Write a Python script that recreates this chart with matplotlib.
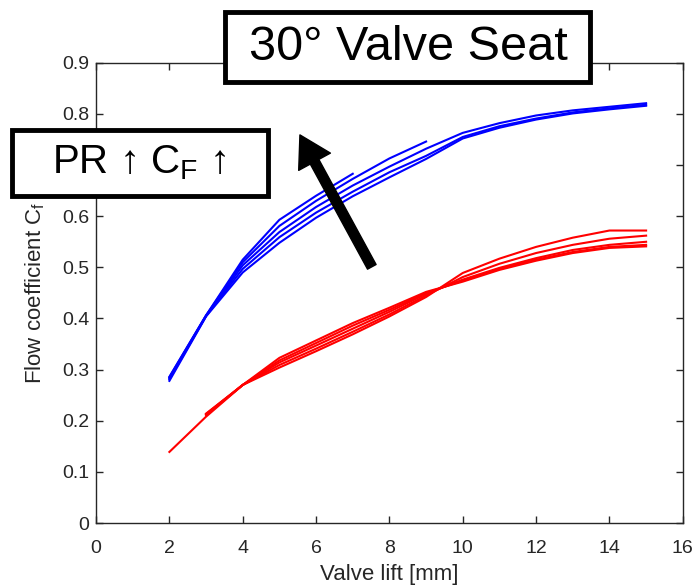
import numpy as np
import matplotlib
matplotlib.use('Agg')
import matplotlib.pyplot as plt
from matplotlib.patches import Rectangle

plt.rcParams['font.family'] = ['Liberation Sans', 'DejaVu Sans']
plt.rcParams['mathtext.fontset'] = 'custom'
plt.rcParams['mathtext.rm'] = 'Liberation Sans'

# Valve lift [mm]
lift_full = np.arange(2, 16)
lift_r = np.arange(3, 16)

# flow coefficient, blue curves (PR rising from bottom to top)
blue_1 = [0.286, 0.406, 0.515, 0.593, 0.640, 0.683]
blue_2 = [0.285, 0.406, 0.510, 0.581, 0.630, 0.673, 0.713, 0.746]
blue_3 = [0.283, 0.405, 0.504, 0.569, 0.618, 0.660, 0.697, 0.732, 0.763, 0.782, 0.797, 0.807, 0.814, 0.821]
blue_4 = [0.281, 0.405, 0.497, 0.559, 0.607, 0.648, 0.686, 0.718, 0.755, 0.776, 0.791, 0.803, 0.811, 0.818]
blue_5 = [0.278, 0.404, 0.490, 0.548, 0.597, 0.639, 0.676, 0.712, 0.752, 0.773, 0.789, 0.801, 0.809, 0.816]

# flow coefficient, red curves
red_1 = [0.139, 0.208, 0.270, 0.304, 0.336, 0.369, 0.404, 0.442, 0.489, 0.517, 0.540, 0.558, 0.572, 0.572]
red_2 = [0.211, 0.270, 0.309, 0.341, 0.374, 0.408, 0.445, 0.481, 0.507, 0.528, 0.544, 0.556, 0.562]
red_3 = [0.212, 0.270, 0.314, 0.347, 0.380, 0.413, 0.448, 0.476, 0.499, 0.518, 0.534, 0.544, 0.550]
red_4 = [0.213, 0.270, 0.318, 0.352, 0.386, 0.417, 0.450, 0.474, 0.497, 0.515, 0.530, 0.540, 0.544]
red_5 = [0.214, 0.270, 0.323, 0.357, 0.391, 0.421, 0.452, 0.472, 0.495, 0.513, 0.528, 0.538, 0.541]

fig = plt.figure(figsize=(6.96, 5.87), dpi=100)
ax = fig.add_axes([0.138, 0.109, 0.843, 0.784])

lw = 1.5
for b in [blue_1, blue_2, blue_3, blue_4, blue_5]:
    ax.plot(lift_full[:len(b)], b, color='#0000FF', lw=lw)
ax.plot(lift_full, red_1, color='#FF0000', lw=lw)
for r in [red_2, red_3, red_4, red_5]:
    ax.plot(lift_r, r, color='#FF0000', lw=lw)

ax.set_xlim(0, 16)
ax.set_ylim(0, 0.9)
ax.set_xticks(np.arange(0, 17, 2))
ax.set_yticks(np.arange(0, 0.91, 0.1))
ax.set_yticklabels(['0', '0.1', '0.2', '0.3', '0.4', '0.5', '0.6', '0.7', '0.8', '0.9'])
ax.tick_params(direction='in', top=True, right=True, length=5, width=1,
               colors='#262626', labelsize=14)
ax.tick_params(axis='x', pad=12)
ax.tick_params(axis='y', pad=5)
for s in ax.spines.values():
    s.set_color('#262626')
    s.set_linewidth(1)
ax.set_xlabel('Valve lift [mm]', fontsize=16, color='#262626', labelpad=5)
ax.set_ylabel(r'Flow coefficient C$_\mathregular{f}$', fontsize=16, color='#262626', labelpad=11)

# arrow: pressure ratio increases
ax.annotate('', xy=(5.56, 0.759), xytext=(7.52, 0.501),
            arrowprops=dict(facecolor='black', edgecolor='black', width=7,
                            headwidth=26, headlength=22))

# text boxes
fig.add_artist(Rectangle((225/696, 1-82/587), 365/696, 70/587, transform=fig.transFigure,
                         facecolor='white', edgecolor='black', lw=3.5, zorder=5))
fig.text(408/696, 1-48/587, '30° Valve Seat', fontsize=35, ha='center', va='center', zorder=6)

fig.add_artist(Rectangle((12/696, 1-196/587), 256/696, 66/587, transform=fig.transFigure,
                         facecolor='white', edgecolor='black', lw=3.5, zorder=5))
fig.text(139/696, 1-163/587, r'PR ↑ C$_\mathregular{F}$ ↑', fontsize=29, ha='center', va='center', zorder=6)

fig.savefig('out.png', dpi=100)
